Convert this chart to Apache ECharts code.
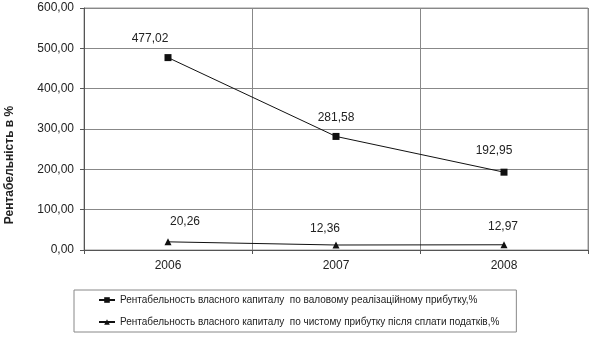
<!DOCTYPE html>
<html><head><meta charset="utf-8">
<script src="https://cdn.jsdelivr.net/npm/echarts@6/dist/echarts.min.js"></script>
<style>html,body{margin:0;padding:0;background:#fff}#c{width:592px;height:337px}</style>
</head><body><div id="c"></div>
<script>
const categories = ['2006', '2007', '2008'];
const grossValues = [477.02, 281.58, 192.95];
const netValues = [20.26, 12.36, 12.97];
const seriesNames = [
  'Рентабельность власного капиталу  по валовому реалізаційному прибутку,%',
  'Рентабельность власного капиталу  по чистому прибутку після сплати податків,%'
];
const yTitle = 'Рентабельність в %';

const fmt = v => v.toFixed(2).replace('.', ',');
const font = 'Liberation Sans, Arial, sans-serif';
const grossOffsets = [[-18, 0], [0, 0], [-10, -3]];
const netOffsets = [[17, -2], [-11, 2], [-1, 0]];

const chart = echarts.init(document.getElementById('c'), null, {renderer: 'canvas'});
chart.setOption({
  animation: false,
  backgroundColor: '#fff',
  grid: {left: 84, right: 4, top: 8, bottom: 87, show: true, borderColor: '#999', borderWidth: 1},
  xAxis: {
    type: 'category', data: categories, boundaryGap: true,
    axisLine: {lineStyle: {color: '#555', width: 1}},
    axisTick: {show: true, length: 4, lineStyle: {color: '#555'}},
    splitLine: {show: true, interval: 0, lineStyle: {color: '#888', width: 1}},
    axisLabel: {color: '#222', fontFamily: font, fontSize: 12, margin: 10}
  },
  yAxis: {
    type: 'value', min: 0, max: 600, interval: 100,
    axisLine: {show: true, lineStyle: {color: '#555', width: 1}},
    axisTick: {show: true, length: 4, lineStyle: {color: '#555'}},
    splitLine: {show: true, lineStyle: {color: '#888', width: 1}},
    axisLabel: {color: '#222', fontFamily: font, fontSize: 12, margin: 10, formatter: v => fmt(v)}
  },
  legend: {
    orient: 'vertical', left: 74, top: 290,
    padding: [4, 17, 4, 24],
    itemGap: 10, itemWidth: 16, itemHeight: 7,
    borderColor: '#888', borderWidth: 1,
    textStyle: {color: '#222', fontFamily: font, fontSize: 10, lineHeight: 12},
    data: [seriesNames[0], seriesNames[1]]
  },
  graphic: [{
    type: 'text', x: 4, y: 165, rotation: Math.PI / 2, origin: [0, 0],
    style: {text: yTitle, font: 'bold 12px ' + font, fill: '#222',
      textAlign: 'center', textVerticalAlign: 'top'}
  }],
  series: [
    {
      name: seriesNames[0], type: 'line',
      data: grossValues.map((v, i) => ({value: v, label: {offset: grossOffsets[i]}})),
      symbol: 'rect', symbolSize: 7, showAllSymbol: true,
      lineStyle: {color: '#111', width: 1}, itemStyle: {color: '#111'},
      label: {show: true, position: 'top', distance: 9, color: '#222', fontFamily: font, fontSize: 12,
        formatter: p => fmt(p.value)}
    },
    {
      name: seriesNames[1], type: 'line',
      data: netValues.map((v, i) => ({value: v, label: {offset: netOffsets[i]}})),
      symbol: 'triangle', symbolSize: 7,
      lineStyle: {color: '#111', width: 1}, itemStyle: {color: '#111'},
      label: {show: true, position: 'top', distance: 9, color: '#222', fontFamily: font, fontSize: 12,
        formatter: p => fmt(p.value)}
    }
  ]
});
</script></body></html>
